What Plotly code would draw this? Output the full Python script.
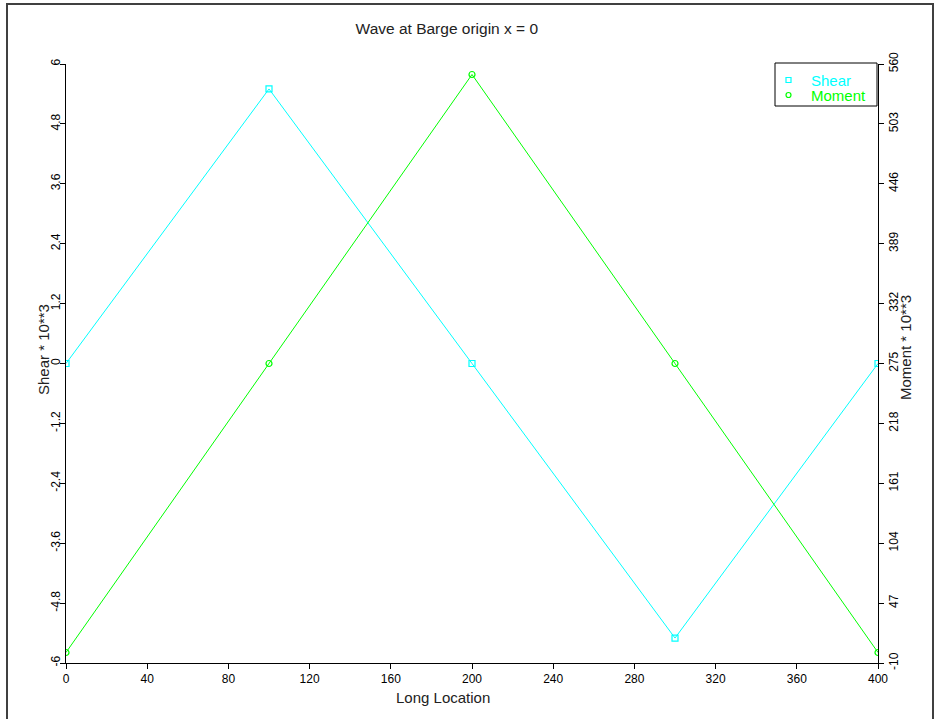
import plotly.graph_objects as go

# ---- data ----
long_location = [0, 100, 200, 300, 400]
shear = [0.0, 5.5, 0.0, -5.5, 0.0]
moment = [0, 275, 550, 275, 0]

x_ticks = [0, 40, 80, 120, 160, 200, 240, 280, 320, 360, 400]
shear_ticks = [-6, -4.8, -3.6, -2.4, -1.2, 0, 1.2, 2.4, 3.6, 4.8, 6]
shear_tick_text = ["-6", "-4.8", "-3.6", "-2.4", "-1.2", "0", "1.2", "2.4", "3.6", "4.8", "6"]
moment_ticks = [-10, 47, 104, 161, 218, 275, 332, 389, 446, 503, 560]
legend_names = ["Shear", "Moment"]

SHEAR_C = "#00FFFF"
MOMENT_C = "#00FF00"
FONT = "Liberation Sans, Arial, sans-serif"

fig = go.Figure()
fig.add_trace(go.Scatter(
    x=long_location, y=shear, mode="lines+markers", name="Shear",
    line=dict(color=SHEAR_C, width=1),
    marker=dict(symbol="square-open", size=6, color=SHEAR_C, line=dict(width=1.2)),
    showlegend=False, yaxis="y"))
fig.add_trace(go.Scatter(
    x=long_location, y=moment, mode="lines+markers", name="Moment",
    line=dict(color=MOMENT_C, width=1),
    marker=dict(symbol="circle-open", size=6, color=MOMENT_C, line=dict(width=1.2)),
    showlegend=False, yaxis="y2"))

L, R, T, B = 66, 62, 64, 56
W, H = 940, 719
pw = W - L - R
ph = H - T - B


def px_x(px):
    return (px - L) / pw


def px_y(py):
    return (H - B - py) / ph


axis_common = dict(
    showgrid=False, zeroline=False, showline=True, linecolor="black", linewidth=1,
    ticks="outside", ticklen=5, tickcolor="black", tickwidth=1,
    tickfont=dict(family=FONT, size=12, color="black"),
)

annotations = [
    dict(text="Shear * 10**3", textangle=-90, x=px_x(43), y=px_y(350),
         xanchor="center", yanchor="middle",
         xref="paper", yref="paper", showarrow=False,
         font=dict(family=FONT, size=15, color="#222222")),
    dict(text="Moment * 10**3", textangle=-90, x=px_x(905), y=px_y(348),
         xanchor="center", yanchor="middle",
         xref="paper", yref="paper", showarrow=False,
         font=dict(family=FONT, size=15, color="#222222")),
    dict(text="Long Location", x=px_x(443), y=px_y(697),
         xanchor="center", yanchor="middle",
         xref="paper", yref="paper", showarrow=False,
         font=dict(family=FONT, size=15, color="#222222")),
]

shapes = [
    dict(type="rect", xref="paper", yref="paper",
         x0=px_x(7), x1=px_x(933), y0=px_y(725), y1=px_y(4),
         line=dict(color="#404040", width=2), fillcolor="rgba(0,0,0,0)",
         layer="below"),
    # legend box
    dict(type="rect", xref="paper", yref="paper",
         x0=px_x(775), x1=px_x(877), y0=px_y(106), y1=px_y(63),
         line=dict(color="black", width=1), fillcolor="white", layer="above"),
]

# legend entries (manual, to match the compact layout)
legend_colors = [SHEAR_C, MOMENT_C]
legend_rows = [80, 95]
for i, (name, col, row) in enumerate(zip(legend_names, legend_colors, legend_rows)):
    annotations.append(dict(
        text=name, x=px_x(809), y=px_y(row), xanchor="left", yanchor="middle",
        xref="paper", yref="paper", showarrow=False,
        font=dict(family=FONT, size=15, color=col)))
    shapes.append(dict(
        type="rect" if i == 0 else "circle", xref="paper", yref="paper",
        x0=px_x(786), x1=px_x(791), y0=px_y(row + 2.5), y1=px_y(row - 2.5),
        line=dict(color=col, width=1.2), fillcolor="rgba(0,0,0,0)", layer="above"))

fig.update_layout(
    width=W, height=H,
    margin=dict(l=L, r=R, t=T, b=B, pad=0),
    paper_bgcolor="white", plot_bgcolor="white",
    font=dict(family=FONT, color="black"),
    title=dict(text="Wave at Barge origin x = 0", x=px_x(452), xanchor="center",
               y=1 - 29 / H, yanchor="middle",
               font=dict(family=FONT, size=15.5, color="#222222")),
    xaxis=dict(range=[0, 400], tickvals=x_ticks, ticktext=[str(v) for v in x_ticks],
               **axis_common),
    yaxis=dict(range=[-6, 6], tickvals=shear_ticks, ticktext=shear_tick_text,
               tickangle=-90, ticklabelstandoff=-5, **axis_common),
    yaxis2=dict(range=[-10, 560], tickvals=moment_ticks,
                ticktext=[str(v) for v in moment_ticks],
                tickangle=-90, overlaying="y", side="right", **axis_common),
    showlegend=False,
    annotations=annotations,
    shapes=shapes,
)

fig.write_html("out.html")
